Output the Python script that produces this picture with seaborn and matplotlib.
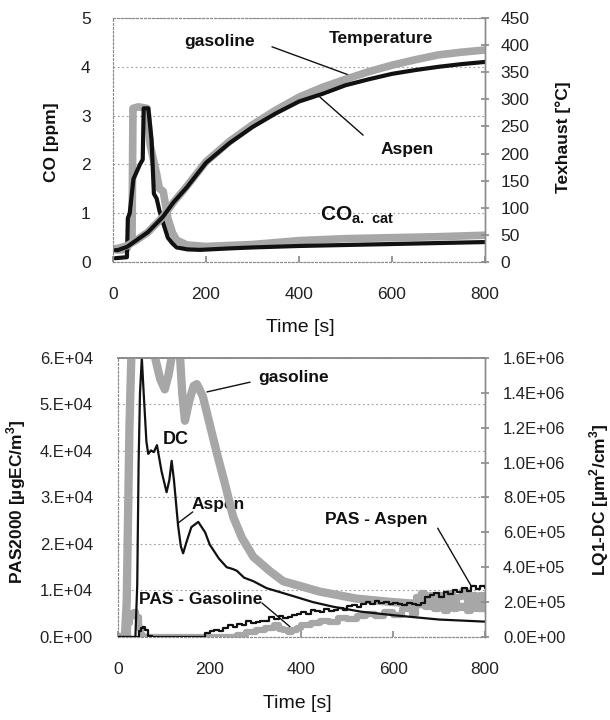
import numpy as np
import matplotlib
matplotlib.use("Agg")
import matplotlib.pyplot as plt
from matplotlib.ticker import FuncFormatter
import seaborn as sns

# ---------------- data: top panel ----------------
temp_time = [5, 10, 30, 50, 75, 107, 130, 159, 200, 250, 300, 350, 400, 450, 500, 550, 600, 650, 700, 750, 800]
temp_aspen = [22, 22, 28, 40, 55, 83, 110, 138, 183, 219, 249, 274, 296, 310, 326, 337, 347, 354, 360, 365, 369]
temp_gasoline = [25, 25, 30, 40, 55, 83, 110, 140, 185, 222, 253, 280, 304, 322, 337, 351, 363, 373, 382, 387, 391]

co_time_aspen = [5, 30, 32, 36, 44, 58, 64, 66, 76, 83, 88, 94, 100, 108, 118, 128, 137, 160, 187, 250, 300, 400, 500, 600, 700, 800]
co_aspen = [0.08, 0.1, 0.9, 1.0, 1.7, 2.0, 2.1, 3.15, 3.15, 2.5, 1.4, 1.3, 1.05, 0.8, 0.5, 0.38, 0.3, 0.26, 0.25, 0.28, 0.3, 0.33, 0.35, 0.37, 0.39, 0.41]
co_time_gasoline = [5, 20, 30, 41, 43, 55, 73, 80, 94, 100, 108, 118, 128, 137, 159, 200, 300, 400, 500, 600, 700, 800]
co_gasoline = [0.25, 0.25, 0.28, 0.5, 3.15, 3.18, 3.15, 2.4, 1.8, 1.5, 1.45, 0.9, 0.6, 0.45, 0.35, 0.32, 0.36, 0.44, 0.48, 0.5, 0.52, 0.55]

# ---------------- data: bottom panel ----------------
dc_time_gasoline = [0, 15, 19, 25, 30, 40, 60, 75, 81, 92, 102, 110, 118, 128, 135, 140, 146, 155, 165, 172, 185, 200,
                    216, 235, 251, 270, 295, 330, 360, 400, 440, 470, 520, 600, 700, 800]
dc_gasoline = [0, 0, 0.2e6, 1.2e6, 1.7e6, 1.8e6, 1.8e6, 1.7e6, 1.6e6, 1.48e6, 1.42e6, 1.5e6, 1.62e6, 1.65e6, 1.62e6,
               1.4e6, 1.24e6, 1.35e6, 1.44e6, 1.45e6, 1.38e6, 1.22e6, 1.05e6, 0.86e6, 0.69e6, 0.57e6, 0.46e6,
               0.38e6, 0.32e6, 0.29e6, 0.26e6, 0.245e6, 0.22e6, 0.2e6, 0.18e6, 0.165e6]

dc_time_aspen = [0, 38, 42, 45, 48, 52, 56, 62, 66, 72, 78, 85, 95, 106, 112, 117, 122, 131, 137, 142, 150, 160, 175,
                 190, 200, 220, 237, 250, 259, 275, 295, 324, 375, 425, 470, 530, 600, 700, 800]
dc_aspen = [0, 0, 0.3e6, 1.0e6, 1.4e6, 1.6e6, 1.4e6, 1.12e6, 1.05e6, 1.07e6, 1.06e6, 1.1e6, 0.95e6, 0.83e6, 0.9e6,
            1.01e6, 0.9e6, 0.64e6, 0.52e6, 0.48e6, 0.55e6, 0.63e6, 0.66e6, 0.6e6, 0.53e6, 0.45e6, 0.4e6, 0.39e6,
            0.38e6, 0.34e6, 0.32e6, 0.28e6, 0.24e6, 0.2e6, 0.173e6, 0.145e6, 0.125e6, 0.1e6, 0.088e6]

pas_time_aspen = [0, 30, 45, 50, 55, 60, 66, 75, 180, 190, 200, 210, 220, 230, 240, 250, 260, 270, 280, 290, 300, 310,
                  320, 330, 340, 350, 360, 370, 380, 390, 400, 410, 420, 430, 440, 450, 460, 470, 480, 490, 500,
                  510, 520, 530, 540, 550, 560, 570, 580, 590, 600, 610, 620, 630, 640, 650, 660, 670, 680, 690,
                  700, 710, 720, 730, 740, 750, 760, 770, 780, 790, 800]
pas_aspen = [0, 0, 1200, 2000, 2200, 1500, 300, 0, 0, 800, 1200, 1500, 1300, 2000, 2500, 2200, 2800, 2500, 3500,
             3000, 3200, 3500, 3400, 4200, 3800, 4500, 4000, 4300, 4700, 5000, 5300, 5000, 5800, 5500, 5300, 6000,
             5600, 5800, 6200, 5900, 6600, 6900, 6400, 7000, 7600, 7200, 7800, 7300, 7500, 7000, 7300, 7100, 6900,
             7400, 7100, 6900, 7300, 8500, 9000, 9400, 8700, 9600, 9200, 10200, 9600, 10600, 9900, 11000, 10300,
             10900, 10600]

pas_time_gasoline = [0, 18, 22, 26, 30, 35, 40, 45, 50, 55, 250, 260, 280, 300, 320, 340, 350, 360, 370, 380, 390,
                     400, 420, 440, 460, 480, 500, 520, 540, 560, 580, 600, 620, 640, 650, 660, 670, 680, 690, 700,
                     710, 720, 730, 740, 750, 760, 770, 780, 790, 800]
pas_gasoline = [0, 0, 3000, 5200, 4500, 5300, 4200, 2000, 500, 0, 0, 500, 1000, 1500, 2000, 2500, 1800, 1500,
                1000, 1500, 2000, 2500, 3000, 3500, 3200, 4000, 3800, 4500, 5000, 4600, 5400, 4800, 6000, 5000,
                8500, 9500, 6500, 9000, 6000, 9000, 5500, 9500, 6000, 8500, 9800, 5500, 9000, 6000, 9000, 7500]

time_ticks = [0, 200, 400, 600, 800]
co_ticks = [0, 1, 2, 3, 4, 5]
temp_ticks = [0, 50, 100, 150, 200, 250, 300, 350, 400, 450]
pas_ticks = [0, 1e4, 2e4, 3e4, 4e4, 5e4, 6e4]
lq_ticks = [0, 2e5, 4e5, 6e5, 8e5, 1e6, 1.2e6, 1.4e6, 1.6e6]

# ---------------- style ----------------
sns.set_theme(style="white")
plt.rcParams['font.family'] = ['Liberation Sans', 'DejaVu Sans']
plt.rcParams['mathtext.fontset'] = 'custom'
plt.rcParams['mathtext.rm'] = 'Liberation Sans'
plt.rcParams['mathtext.bf'] = 'Liberation Sans:bold'

GRAY = '#a7a7a7'
BLACK = '#111111'
SPINE = '#8c8c8c'
TXT = '#111111'


def leader(a, p_from, p_to):
    a.annotate('', xy=p_to, xytext=p_from,
               arrowprops=dict(arrowstyle='-', color=TXT, lw=1.0, shrinkA=0, shrinkB=0))


def label(a, x, y, s, size=12.5):
    a.text(x, y, s, ha='center', va='center', fontsize=size, fontweight='bold', color=TXT)


fig = plt.figure(figsize=(6.1, 7.2), dpi=100)

# ================= TOP PANEL =================
ax = fig.add_axes([0.1852, 0.636, 0.6098, 0.339])
ax2 = ax.twinx()

sns.lineplot(x=co_time_gasoline, y=co_gasoline, ax=ax, color=GRAY, lw=5.5, legend=False)
sns.lineplot(x=co_time_aspen, y=co_aspen, ax=ax, color=BLACK, lw=3.0, legend=False)
sns.lineplot(x=temp_time, y=temp_gasoline, ax=ax2, color=GRAY, lw=5.5, legend=False)
sns.lineplot(x=temp_time, y=temp_aspen, ax=ax2, color=BLACK, lw=3.0, legend=False)

ax.set_xlim(0, 800)
ax.set_ylim(0, 5)
ax2.set_ylim(0, 450)
ax.set_xticks(time_ticks)
ax.set_yticks(co_ticks)
ax2.set_yticks(temp_ticks)

ax.grid(axis='y', color='#9a9a9a', linestyle=(0, (1.5, 2.5)), lw=0.8)
ax.grid(axis='x', visible=False)
ax2.grid(False)

for a in (ax, ax2):
    for s in ['left', 'top', 'bottom']:
        a.spines[s].set_color(SPINE)
        a.spines[s].set_linestyle((0, (1.5, 2)))
        a.spines[s].set_linewidth(0.8)
    a.spines['right'].set_color(SPINE)
    a.spines['right'].set_linewidth(1.0)

ax.tick_params(axis='y', left=False, labelsize=12.5, pad=10, labelcolor='#222222')
ax.tick_params(axis='x', bottom=True, direction='in', length=4, color=SPINE, labelsize=12.5, pad=18,
               labelcolor='#222222')
ax2.tick_params(axis='y', right=True, direction='inout', length=6, color=SPINE, labelsize=12.5, pad=8,
                labelcolor='#222222')

ax.set_ylabel('CO [ppm]', fontsize=12.5, fontweight='bold', color=TXT)
ax.yaxis.set_label_coords(-0.145, 0.49)
ax2.set_ylabel('Texhaust [°C]', fontsize=12.5, fontweight='bold', color=TXT)
ax2.yaxis.set_label_coords(1.19, 0.51)
ax.set_xlabel('Time [s]', fontsize=14, color=TXT)
ax.xaxis.set_label_coords(0.503, -0.232)

label(ax, 230, 4.51, 'gasoline')
leader(ax, (342, 4.41), (525, 3.77))
label(ax, 576, 4.59, 'Temperature')
leader(ax, (538, 2.60), (445, 3.38))
label(ax, 632, 2.30, 'Aspen')
ax.text(525, 0.96, r'CO$_{\mathbf{a.\ cat}}$', ha='center', va='center', fontsize=15, fontweight='bold', color=TXT)

# ================= BOTTOM PANEL =================
bx = fig.add_axes([0.1934, 0.1153, 0.6016, 0.3875])
bx2 = bx.twinx()
bx3 = bx.twinx()

sns.lineplot(x=pas_time_gasoline, y=pas_gasoline, ax=bx, color=GRAY, lw=4.5, drawstyle='steps-post', legend=False)
sns.lineplot(x=dc_time_gasoline, y=dc_gasoline, ax=bx2, color=GRAY, lw=6.0, legend=False)
sns.lineplot(x=dc_time_aspen, y=dc_aspen, ax=bx2, color=BLACK, lw=1.6, legend=False)
sns.lineplot(x=pas_time_aspen, y=pas_aspen, ax=bx3, color=BLACK, lw=1.6, drawstyle='steps-post', legend=False)

bx.set_xlim(0, 800)
bx.set_ylim(0, 6e4)
bx3.set_ylim(0, 6e4)
bx2.set_ylim(0, 1.6e6)
bx.set_xticks(time_ticks)
bx.set_yticks(pas_ticks)
bx2.set_yticks(lq_ticks)


def left_fmt(v, pos):
    if v <= 0:
        return '0.E+00'
    e = int(np.floor(np.log10(v)))
    return f"{v / 10 ** e:.0f}.E+{e:02d}"


bx.yaxis.set_major_formatter(FuncFormatter(left_fmt))
bx2.yaxis.set_major_formatter(FuncFormatter(lambda v, p: f"{v:.1E}"))

bx.grid(axis='y', color='#9a9a9a', linestyle=(0, (1.5, 2.5)), lw=0.8)
bx.grid(axis='x', visible=False)
bx2.grid(False)
bx3.grid(False)
bx3.set_yticks([])
bx3.set_ylabel('')
for s in bx3.spines.values():
    s.set_visible(False)

for a in (bx, bx2):
    for s in ['left', 'bottom']:
        a.spines[s].set_color(SPINE)
        a.spines[s].set_linestyle((0, (1.5, 2)))
        a.spines[s].set_linewidth(0.8)
    a.spines['top'].set_color(SPINE)
    a.spines['top'].set_linewidth(1.2)
    a.spines['right'].set_color(SPINE)
    a.spines['right'].set_linewidth(1.0)

bx.tick_params(axis='y', left=False, labelsize=12, pad=12, labelcolor='#222222')
bx.tick_params(axis='x', bottom=True, direction='in', length=4, color=SPINE, labelsize=12.5, pad=18,
               labelcolor='#222222')
bx2.tick_params(axis='y', right=True, direction='inout', length=6, color=SPINE, labelsize=12, pad=10,
                labelcolor='#222222')

bx.set_ylabel('PAS2000 [µgEC/m$^\\mathbf{3}$]', fontsize=12.5, fontweight='bold', color=TXT)
bx.yaxis.set_label_coords(-0.245, 0.484)
bx2.set_ylabel('LQ1-DC [µm$^\\mathbf{2}$/cm$^\\mathbf{3}$]', fontsize=12.5, fontweight='bold', color=TXT)
bx2.yaxis.set_label_coords(1.28, 0.49)
bx.set_xlabel('Time [s]', fontsize=14, color=TXT)
bx.xaxis.set_label_coords(0.49, -0.208)

label(bx, 383, 5.59e4, 'gasoline')
leader(bx, (288, 5.48e4), (194, 5.27e4))
label(bx, 126, 4.24e4, 'DC', size=13)
label(bx, 218, 2.84e4, 'Aspen')
leader(bx, (163, 2.69e4), (131, 2.45e4))
label(bx, 181, 0.8e4, 'PAS - Gasoline')
leader(bx, (314, 0.73e4), (375, 0.22e4))
label(bx, 562, 2.52e4, 'PAS - Aspen')
leader(bx, (697, 2.34e4), (771, 1.08e4))

fig.savefig('out.png', dpi=100)
